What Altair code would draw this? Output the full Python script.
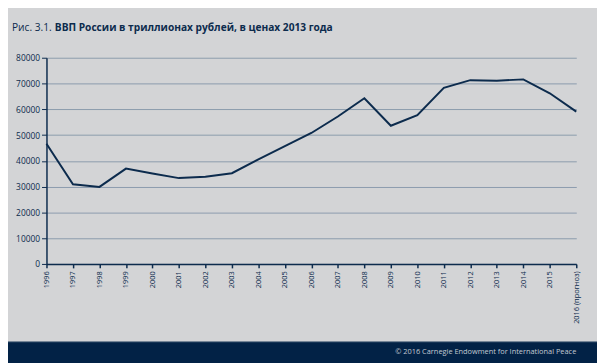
import altair as alt
import pandas as pd

years = ["1996", "1997", "1998", "1999", "2000", "2001", "2002", "2003", "2004", "2005",
         "2006", "2007", "2008", "2009", "2010", "2011", "2012", "2013", "2014", "2015",
         "2016 (прогноз)"]
gdp = [46600, 30900, 29900, 37000, 35100, 33300, 33800, 35200, 40600, 45700,
       50800, 57200, 64300, 53600, 57700, 68300, 71300, 71100, 71600, 66200, 59100]

title_num = "Рис. 3.1."
title_main = "ВВП России в триллионах рублей, в ценах 2013 года"
footer_text = "© 2016 Carnegie Endowment for International Peace"

NAVY = "#0c2b4d"
BG = "#d3d4d6"
FONT = "Open Sans"

df = pd.DataFrame({"year": years, "gdp": gdp})

line = alt.Chart(df).mark_line(color=NAVY, strokeWidth=2).encode(
    x=alt.X("year:O", sort=years, title=None,
            scale=alt.Scale(type="point", padding=0),
            axis=alt.Axis(labelAngle=270, labelFontSize=7.5, labelColor=NAVY,
                          labelFont=FONT, tickColor=NAVY, tickSize=4, tickWidth=1.5,
                          domainColor=NAVY, domainWidth=1.5, labelPadding=3,
                          grid=False)),
    y=alt.Y("gdp:Q", title=None,
            scale=alt.Scale(domain=[0, 80000], nice=False),
            axis=alt.Axis(values=list(range(0, 80001, 10000)), labelFontSize=8.5,
                          labelColor=NAVY, labelFont=FONT, tickColor=NAVY, tickSize=5,
                          tickWidth=1, domainColor=NAVY, domainWidth=1.5,
                          labelPadding=2, grid=True, gridColor="#8b9bad",
                          gridWidth=1, format="d")),
)

footer = alt.Chart(pd.DataFrame({"t": [footer_text]})).mark_rect(color="#022246").encode(
    x=alt.value(-39), x2=alt.value(560), y=alt.value(288), y2=alt.value(330)
)
footer_line = alt.Chart(pd.DataFrame({"t": [footer_text]})).mark_rule(color="#3b5570", strokeWidth=1).encode(
    x=alt.value(-39), x2=alt.value(560), y=alt.value(288)
)
footer_label = alt.Chart(pd.DataFrame({"t": [footer_text]})).mark_text(
    align="right", baseline="alphabetic", font=FONT, fontSize=7.5, color="#c3cad3"
).encode(x=alt.value(537), y=alt.value(300), text="t:N")

t1 = alt.Chart(pd.DataFrame({"t": [title_num]})).mark_text(
    align="left", baseline="alphabetic", font=FONT, fontSize=10.3, color=NAVY
).encode(x=alt.value(-35), y=alt.value(-27.5), text="t:N")
t2 = alt.Chart(pd.DataFrame({"t": [title_main]})).mark_text(
    align="left", baseline="alphabetic", font=FONT, fontSize=10.3, fontWeight="bold", color=NAVY
).encode(x=alt.value(8.5), y=alt.value(-27.5), text="t:N")

chart = alt.layer(line, footer, footer_line, footer_label, t1, t2).properties(
    width=537, height=209,
    padding={"left": 39, "top": 48, "right": 21, "bottom": 98},
    autosize=alt.AutoSizeParams(type="none"),
    background=BG,
).configure_view(stroke=None)

chart.save("out.html", embed_options={"renderer": "svg", "actions": False})
